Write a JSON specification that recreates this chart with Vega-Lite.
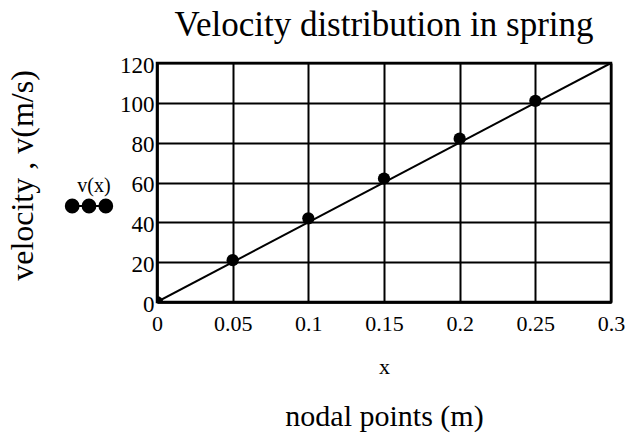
{
  "$schema": "https://vega.github.io/schema/vega-lite/v6.json",
  "autosize": "none",
  "width": 454,
  "height": 239,
  "padding": {"left": 157, "top": 63, "right": 20, "bottom": 133},
  "background": "white",
  "title": {
    "text": "Velocity distribution in spring",
    "font": "Liberation Serif",
    "fontSize": 35,
    "fontWeight": "normal",
    "color": "black",
    "anchor": "middle",
    "frame": "group",
    "offset": 11
  },
  "datasets": {
    "curve": [
      {"x": 0, "v": 0},
      {"x": 0.3, "v": 120}
    ],
    "nodes": [
      {"x": 0, "v": 0, "series": "v(x)"},
      {"x": 0.05, "v": 21, "series": "v(x)"},
      {"x": 0.1, "v": 42, "series": "v(x)"},
      {"x": 0.15, "v": 62, "series": "v(x)"},
      {"x": 0.2, "v": 82, "series": "v(x)"},
      {"x": 0.25, "v": 101, "series": "v(x)"}
    ]
  },
  "config": {
    "view": {"stroke": "black", "strokeWidth": 2.5},
    "axis": {
      "labelFont": "Liberation Serif",
      "titleFont": "Liberation Serif",
      "labelColor": "black",
      "titleColor": "black",
      "titleFontWeight": "normal",
      "ticks": false,
      "domainColor": "black",
      "domainWidth": 2.5,
      "gridColor": "black",
      "gridOpacity": 1,
      "gridWidth": 2
    }
  },
  "resolve": {"axis": {"x": "independent"}},
  "layer": [
    {
      "data": {"name": "curve"},
      "mark": {"type": "line", "color": "black", "strokeWidth": 2, "clip": true},
      "encoding": {
        "x": {
          "field": "x",
          "type": "quantitative",
          "scale": {"domain": [0, 0.3], "nice": false, "zero": false},
          "axis": {
            "values": [0, 0.05, 0.1, 0.15, 0.2, 0.25, 0.3],
            "format": "~g",
            "labelFontSize": 22,
            "labelPadding": 11,
            "labelFlush": false,
            "labelOverlap": false,
            "grid": true,
            "title": "x",
            "titleFontSize": 22,
            "titlePadding": 22
          }
        },
        "y": {
          "field": "v",
          "type": "quantitative",
          "scale": {"domain": [0, 120], "nice": false},
          "axis": {
            "values": [0, 20, 40, 60, 80, 100, 120],
            "labelFontSize": 23,
            "labelPadding": 3,
            "labelOffset": 2,
            "labelFlush": false,
            "labelOverlap": false,
            "grid": true,
            "title": "velocity , v(m/s)",
            "titleFontSize": 32,
            "titlePadding": 80,
            "titleY": 112
          }
        }
      }
    },
    {
      "data": {"name": "nodes"},
      "mark": {"type": "point", "filled": true, "opacity": 1, "size": 150, "clip": true},
      "encoding": {
        "x": {
          "field": "x",
          "type": "quantitative",
          "axis": {
            "orient": "bottom",
            "labels": false,
            "domain": false,
            "grid": false,
            "title": "nodal points (m)",
            "titleFontSize": 30,
            "titlePadding": 99
          }
        },
        "y": {
          "field": "v",
          "type": "quantitative",
          "axis": {
            "values": [0, 20, 40, 60, 80, 100, 120],
            "labelFontSize": 23,
            "labelPadding": 3,
            "labelOffset": 2,
            "labelFlush": false,
            "labelOverlap": false,
            "grid": true,
            "title": "velocity , v(m/s)",
            "titleFontSize": 32,
            "titlePadding": 80,
            "titleY": 112
          }
        },
        "color": {
          "field": "series",
          "type": "nominal",
          "scale": {"range": ["black"]},
          "legend": {
            "orient": "none",
            "legendX": -86,
            "legendY": 113,
            "padding": 0,
            "title": "v(x)",
            "titleFont": "Liberation Serif",
            "titleFontSize": 20,
            "titleFontWeight": "normal",
            "titleColor": "black",
            "titleAnchor": "middle",
            "titleAlign": "center",
            "titlePadding": 1,
            "labelExpr": "''",
            "labelOffset": 0,
            "symbolOffset": 9,
            "symbolSize": 256,
            "symbolType": "M-2.9,0A0.8,0.8 0 1,0 -1.3,0A0.8,0.8 0 1,0 -2.9,0Z M-0.8,0A0.8,0.8 0 1,0 0.8,0A0.8,0.8 0 1,0 -0.8,0Z M1.3,0A0.8,0.8 0 1,0 2.9,0A0.8,0.8 0 1,0 1.3,0Z M-2.1,0L2.1,0",
            "symbolFillColor": "black",
            "symbolStrokeColor": "black",
            "symbolStrokeWidth": 2,
            "symbolOpacity": 1
          }
        }
      }
    }
  ]
}
